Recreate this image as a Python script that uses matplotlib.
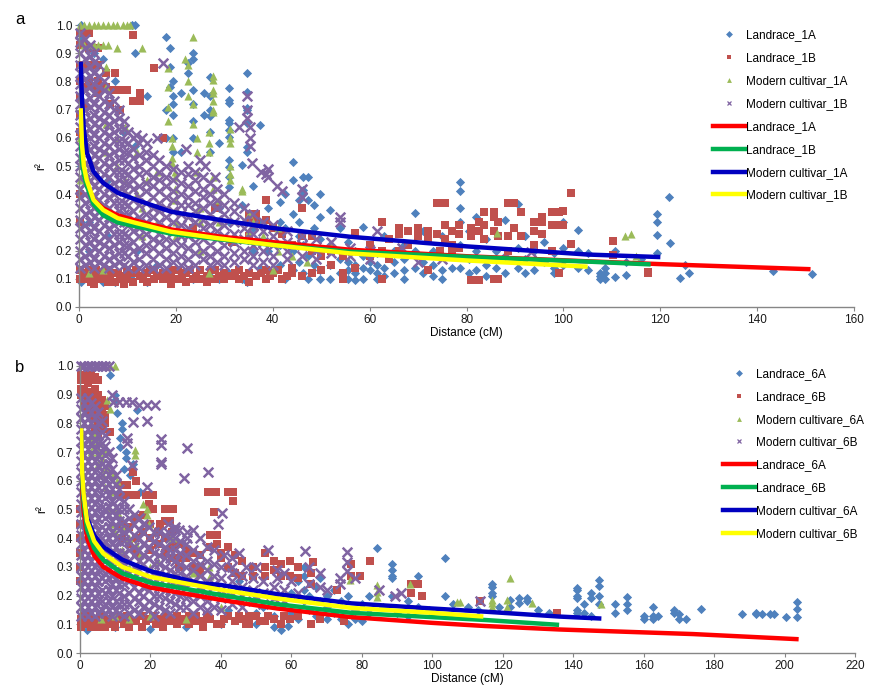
import matplotlib
matplotlib.use("Agg")
import matplotlib.pyplot as plt
from matplotlib.lines import Line2D

plt.rcParams['font.family'] = ['Liberation Sans', 'DejaVu Sans']

# ---------------- data ----------------
# scatter data are stored as columns: (distance, [r2 values at that distance])

# panel a, Landrace_1A (blue diamonds)
la1a_cols = [
    (0.5, [1.0, 0.95, 0.09, 0.5, 0.3]), (2, [0.2, 0.3, 0.4]), (3, [0.9, 0.1]), (5, [0.88, 0.09]),
    (6, [0.25, 0.45]), (7.5, [0.8, 0.09]), (9, [0.62, 0.1]), (10.9, [1.0, 0.1]), (11.6, [1.0, 0.9, 0.57]),
    (12, [0.3, 0.2]), (14, [0.75, 0.09]), (16, [0.35, 0.15]), (17.9, [0.956, 0.7, 0.6]),
    (18.8, [0.918, 0.85, 0.78]), (19.5, [0.8, 0.75, 0.72, 0.68, 0.6, 0.55, 0.1]), (21, [0.55, 0.76, 0.12]),
    (22.6, [0.864, 0.83]), (23.6, [0.9, 0.88, 0.77, 0.72, 0.66, 0.6, 0.1]), (25.7, [0.758, 0.68]),
    (27, [0.817, 0.75, 0.7, 0.676, 0.62, 0.55, 0.11]), (29, [0.58, 0.35, 0.1]),
    (31, [0.776, 0.734, 0.722, 0.663, 0.651, 0.627, 0.603, 0.52, 0.497, 0.46, 0.425, 0.3, 0.12]),
    (33.6, [0.504, 0.36, 0.1]), (34.6, [0.829, 0.764, 0.705, 0.7, 0.651, 0.569, 0.55, 0.09]),
    (36, [0.43, 0.28, 0.2]), (37.4, [0.645, 0.3, 0.14]), (39, [0.35, 0.2, 0.11]),
    (41.5, [0.373, 0.3, 0.22, 0.15]), (42.5, [0.4, 0.28, 0.1]), (44.2, [0.515, 0.45, 0.33, 0.2, 0.13]),
    (45.5, [0.38, 0.3, 0.25, 0.16]), (46.3, [0.462, 0.415, 0.4, 0.22, 0.12]), (47.3, [0.462, 0.38, 0.18, 0.1]),
    (48.5, [0.36, 0.28, 0.15]), (49.8, [0.32, 0.4, 0.24, 0.13, 0.1]), (51.9, [0.344, 0.22, 0.15, 0.1]),
    (53.9, [0.279, 0.2, 0.17, 0.12]), (55.5, [0.23, 0.16, 0.13, 0.1]), (57, [0.2, 0.15, 0.12, 0.095]),
    (58.7, [0.285, 0.18, 0.14, 0.1]), (60, [0.22, 0.16, 0.13]), (61.6, [0.19, 0.15, 0.12, 0.1]),
    (63, [0.25, 0.14, 0.11]), (65, [0.2, 0.16, 0.12]), (67, [0.22, 0.17, 0.13, 0.1]),
    (69.4, [0.332, 0.2, 0.14]), (71, [0.27, 0.16, 0.12]), (73, [0.2, 0.15, 0.11]),
    (75, [0.25, 0.18, 0.13, 0.1]), (77, [0.22, 0.14]), (78.7, [0.444, 0.41, 0.35, 0.3, 0.22, 0.14]),
    (80.5, [0.27, 0.17, 0.12]), (82, [0.32, 0.2, 0.13]), (84, [0.24, 0.15, 0.11]), (86, [0.2, 0.14]),
    (88, [0.31, 0.18, 0.12]), (90.7, [0.367, 0.21, 0.14]), (92, [0.25, 0.17, 0.12]), (94, [0.2, 0.13]),
    (96, [0.23, 0.16]), (98, [0.19, 0.14, 0.12]), (100, [0.3, 0.21, 0.15]), (103, [0.273, 0.2, 0.14]),
    (105, [0.19, 0.13]), (107.5, [0.12, 0.1, 0.11]), (108.5, [0.1, 0.12, 0.14]), (110.6, [0.107, 0.2]),
    (113, [0.113, 0.16]), (116, [0.17]), (119.3, [0.33, 0.303, 0.255, 0.19]), (121.7, [0.391]),
    (122, [0.228]), (124, [0.102]), (125, [0.148]), (126, [0.121]), (143.3, [0.129]), (151.2, [0.118]),
]

# panel a, Landrace_1B (red squares)
lr1b_cols = [
    (0.3, [0.97, 0.93, 0.86, 0.8, 0.74, 0.68, 0.62, 0.4, 0.3, 0.13, 0.1]),
    (1, [0.97, 0.93, 0.86, 0.78, 0.72, 0.12, 0.1]), (1.5, [0.12, 0.1]), (2, [0.97, 0.92, 0.86, 0.8, 0.13, 0.1]),
    (2.5, [0.12, 0.09]), (3, [0.92, 0.86, 0.78, 0.11, 0.08]), (3.5, [0.13, 0.1]),
    (4, [0.92, 0.86, 0.8, 0.76, 0.12, 0.1]), (4.8, [0.11]), (5.6, [0.78, 0.83, 0.13, 0.1]),
    (6, [0.13, 0.09]), (6.5, [0.77, 0.72, 0.11]), (7.4, [0.83, 0.77, 0.12, 0.09]), (8, [0.12]),
    (8.5, [0.77, 0.7, 0.1]), (9.2, [0.11, 0.08]), (9.9, [0.77, 0.13, 0.1]), (10.5, [0.12]),
    (11.2, [0.965, 0.73, 0.12, 0.09]), (11.8, [0.13]), (12.6, [0.76, 0.73, 0.11]), (13.2, [0.1]),
    (14, [0.12, 0.09]), (14.7, [0.13]), (15.4, [0.846, 0.13, 0.1]), (16.2, [0.11]), (17.4, [0.6, 0.12, 0.1]),
    (18, [0.12]), (19, [0.13, 0.11, 0.08]), (20.5, [0.1, 0.13]), (21.2, [0.11]), (22, [0.12, 0.09]),
    (23, [0.13]), (23.5, [0.28, 0.1]), (24.2, [0.11]), (25, [0.13, 0.1]), (26.5, [0.11, 0.09]),
    (27.3, [0.13]), (28, [0.35, 0.13, 0.1]), (29, [0.11]), (30, [0.12, 0.1]),
    (31.5, [0.23, 0.11]), (32.2, [0.12]), (33, [0.13, 0.1]), (34, [0.11]), (35, [0.33, 0.3, 0.25, 0.12, 0.09]),
    (36.5, [0.33, 0.31, 0.11]), (37.5, [0.12]), (38.7, [0.38, 0.31, 0.13, 0.1]), (39.5, [0.11]),
    (40, [0.28, 0.12]), (41, [0.13]), (42, [0.26, 0.1]), (43, [0.11]),
    (44, [0.22, 0.14, 0.12]), (46, [0.35, 0.25, 0.11]), (48, [0.25, 0.2, 0.12]), (50, [0.18, 0.13]),
    (52, [0.2, 0.15]), (54.5, [0.1, 0.12, 0.18]), (57, [0.261, 0.14]), (60, [0.22, 0.18]),
    (62.5, [0.3, 0.2, 0.1]), (64, [0.24, 0.17]), (66, [0.28, 0.26, 0.2]), (68, [0.27, 0.22]),
    (70, [0.28, 0.25, 0.18]), (72, [0.27, 0.24, 0.13]), (73.8, [0.368, 0.26]), (74.5, [0.368, 0.2]),
    (75.5, [0.368, 0.29, 0.24]), (77, [0.27, 0.22, 0.2]), (78.5, [0.29, 0.26, 0.21]),
    (80.9, [0.096, 0.28, 0.25]), (82.6, [0.096, 0.3, 0.27]), (83.6, [0.338, 0.29, 0.24]),
    (85.7, [0.338, 0.32, 0.1, 0.27]), (86.5, [0.3, 0.25, 0.1]), (88.6, [0.368, 0.25, 0.2]),
    (89.7, [0.368, 0.28]), (91.2, [0.338, 0.25]), (94, [0.27, 0.3, 0.22]), (95.5, [0.32, 0.3, 0.26]),
    (97.6, [0.338, 0.29, 0.2]), (99, [0.338, 0.29, 0.12]), (100, [0.34, 0.29]), (101.6, [0.405, 0.225]),
    (110.3, [0.234, 0.185]), (117.5, [0.12, 0.125]),
]

# panel a, Modern cultivar_1A (green triangles)
mc1a_cols = [
    (0.3, [1.0, 0.6, 0.45]), (1, [1.0, 0.93]), (2, [1.0, 0.93, 0.12]), (3, [1.0, 0.93]), (4, [1.0, 0.93]),
    (5, [1.0, 0.93, 0.13]), (5.5, [0.85, 0.78, 0.65, 0.55]), (6, [1.0, 0.93]), (7, [1.0]),
    (7.8, [1.0, 0.92, 0.6, 0.5]), (9, [1.0]), (9.5, [0.64, 0.45]), (10, [1.0]), (10.6, [1.0]),
    (12, [0.55, 0.4]), (13, [0.92, 0.35, 0.25]), (14, [0.45]), (16, [0.48, 0.3]),
    (18.4, [0.846, 0.78, 0.71, 0.66]), (19.2, [0.6, 0.57, 0.53, 0.51]), (19.9, [0.48, 0.46, 0.42, 0.38]),
    (20, [0.3, 0.25]), (21.9, [0.88]), (22.6, [0.86, 0.8, 0.75]), (23.6, [0.958, 0.72, 0.65]),
    (24.3, [0.6, 0.55, 0.48]), (25, [0.35, 0.3, 0.2]), (26.9, [0.62, 0.58, 0.55, 0.12]),
    (27.7, [0.82, 0.805, 0.77, 0.76, 0.73, 0.7, 0.69, 0.46, 0.42]), (29, [0.38, 0.3]),
    (31.2, [0.63, 0.6, 0.58, 0.5, 0.47, 0.45]), (33.6, [0.42, 0.41]), (35, [0.33, 0.27]), (36, [0.3]),
    (38, [0.25]), (40, [0.13]), (41, [0.2, 0.28]), (44, [0.22, 0.18]), (47, [0.16]), (52, [0.22]),
    (86.2, [0.261]), (112.7, [0.25]), (113.9, [0.258]), (115, [0.18]),
]

# panel a, Modern cultivar_1B (purple crosses)
mc1b_cols = [
    (0.2, [0.97, 0.94, 0.9, 0.86, 0.83, 0.79, 0.75, 0.72, 0.68, 0.64, 0.61, 0.57, 0.53, 0.5, 0.46, 0.42, 0.39, 0.35, 0.31, 0.28, 0.24, 0.2, 0.17, 0.14]),
    (1.2, [0.95, 0.92, 0.88, 0.84, 0.81, 0.77, 0.73, 0.7, 0.66, 0.62, 0.59, 0.55, 0.51, 0.48, 0.44, 0.4, 0.37, 0.33, 0.29, 0.26, 0.22, 0.18, 0.15]),
    (2.2, [0.93, 0.89, 0.85, 0.82, 0.78, 0.74, 0.71, 0.67, 0.63, 0.6, 0.56, 0.52, 0.49, 0.45, 0.41, 0.38, 0.34, 0.3, 0.27, 0.23, 0.19, 0.16]),
    (3.2, [0.9, 0.87, 0.83, 0.79, 0.76, 0.72, 0.68, 0.65, 0.61, 0.57, 0.54, 0.5, 0.46, 0.43, 0.39, 0.35, 0.32, 0.28, 0.24, 0.21, 0.17, 0.14]),
    (4.2, [0.86, 0.82, 0.78, 0.75, 0.71, 0.67, 0.64, 0.6, 0.56, 0.53, 0.49, 0.45, 0.42, 0.38, 0.34, 0.31, 0.27, 0.23, 0.2, 0.16]),
    (5.2, [0.8, 0.77, 0.73, 0.69, 0.66, 0.62, 0.58, 0.55, 0.51, 0.47, 0.44, 0.4, 0.36, 0.33, 0.29, 0.25, 0.22, 0.18, 0.15]),
    (6.2, [0.76, 0.72, 0.68, 0.65, 0.61, 0.57, 0.54, 0.5, 0.46, 0.43, 0.39, 0.35, 0.32, 0.28, 0.24, 0.21, 0.17, 0.14]),
    (7.2, [0.73, 0.7, 0.66, 0.62, 0.59, 0.55, 0.51, 0.48, 0.44, 0.4, 0.37, 0.33, 0.29, 0.26, 0.22, 0.18, 0.15]),
    (8.2, [0.7, 0.67, 0.63, 0.59, 0.56, 0.52, 0.48, 0.45, 0.41, 0.37, 0.34, 0.3, 0.26, 0.23, 0.19, 0.16]),
    (9.2, [0.66, 0.63, 0.59, 0.55, 0.52, 0.48, 0.44, 0.41, 0.37, 0.33, 0.3, 0.26, 0.22, 0.19, 0.15]),
    (10.2, [0.62, 0.58, 0.55, 0.51, 0.47, 0.44, 0.4, 0.36, 0.33, 0.29, 0.25, 0.22, 0.18, 0.14]),
    (11.2, [0.6, 0.56, 0.53, 0.49, 0.45, 0.42, 0.38, 0.34, 0.31, 0.27, 0.23, 0.2, 0.16]),
    (12.4, [0.58, 0.54, 0.5, 0.47, 0.43, 0.39, 0.36, 0.32, 0.28, 0.25, 0.21, 0.17, 0.14]),
    (13.8, [0.55, 0.52, 0.48, 0.44, 0.41, 0.37, 0.33, 0.3, 0.26, 0.22, 0.19, 0.15]),
    (15.2, [0.54, 0.5, 0.46, 0.43, 0.39, 0.35, 0.32, 0.28, 0.24, 0.21, 0.17, 0.14]),
    (16.6, [0.52, 0.48, 0.45, 0.41, 0.37, 0.34, 0.3, 0.26, 0.23, 0.19, 0.15]),
    (18, [0.5, 0.46, 0.43, 0.39, 0.35, 0.32, 0.28, 0.24, 0.21, 0.17, 0.14]),
    (19.5, [0.49, 0.45, 0.41, 0.38, 0.34, 0.3, 0.27, 0.23, 0.19, 0.16]),
    (21, [0.48, 0.44, 0.4, 0.36, 0.33, 0.29, 0.25, 0.22, 0.18, 0.15]),
    (22.5, [0.5, 0.47, 0.43, 0.39, 0.36, 0.32, 0.28, 0.25, 0.21, 0.17, 0.14]),
    (24, [0.48, 0.45, 0.41, 0.37, 0.34, 0.3, 0.26, 0.23, 0.19, 0.15]),
    (25.5, [0.46, 0.42, 0.39, 0.35, 0.31, 0.28, 0.24, 0.2, 0.17]),
    (27, [0.44, 0.4, 0.37, 0.33, 0.29, 0.26, 0.22, 0.18, 0.15]),
    (28.5, [0.42, 0.38, 0.35, 0.31, 0.27, 0.24, 0.2, 0.16]),
    (30, [0.4, 0.36, 0.33, 0.29, 0.25, 0.22, 0.18, 0.15]),
    (32, [0.37, 0.34, 0.3, 0.26, 0.23, 0.19, 0.16]),
    (34, [0.35, 0.31, 0.28, 0.24, 0.2, 0.17]),
    (36, [0.33, 0.29, 0.26, 0.22, 0.18, 0.15]),
    (38, [0.3, 0.27, 0.23, 0.2, 0.16]),
    (40, [0.29, 0.25, 0.22, 0.18, 0.15]),
    (43, [0.27, 0.23, 0.2, 0.17]), (46, [0.25, 0.22, 0.18, 0.42, 0.39]), (49, [0.24, 0.2, 0.17]),
    (52, [0.23, 0.19]), (56, [0.21, 0.18]), (60, [0.2, 0.17]),
    (11.7, [0.61]), (13, [0.6]), (14, [0.58]), (16, [0.6]), (17.3, [0.866]), (22, [0.56]), (25, [0.52]),
    (26, [0.5]), (28, [0.46]), (33, [0.64]), (34.6, [0.75, 0.7, 0.67]), (35.4, [0.64, 0.6, 0.57]),
    (35.8, [0.51]), (37.5, [0.48]), (38.5, [0.47]), (39, [0.49, 0.46]), (40.8, [0.43]), (42, [0.41]),
    (53.9, [0.3, 0.32]), (61.6, [0.27]), (66.6, [0.21]), (70, [0.16]), (75, [0.17]), (93.3, [0.196]),
]

# panel b, Landrace_6A (blue diamonds)
la6a_cols = [
    (2, [0.08]), (8.5, [0.969]), (10, [0.9, 0.88, 0.09]), (10.4, [0.835]), (11.4, [0.748, 0.719]),
    (12, [0.8, 0.78]), (12.5, [0.64]), (13, [0.7, 0.68]), (14.2, [0.62]), (15, [0.66]), (16.1, [0.847]),
    (17, [0.56]), (20, [0.085]), (30, [0.09]), (40, [0.1]), (42, [0.15, 0.2]), (45, [0.25, 0.18]),
    (48, [0.22]), (50, [0.14, 0.2, 0.1]), (52, [0.16]), (55, [0.2, 0.13, 0.09]), (57, [0.08]),
    (58, [0.17]), (59, [0.095]), (60, [0.21, 0.14]), (62, [0.25, 0.12]), (63.5, [0.3, 0.27, 0.22, 0.18]),
    (65, [0.2, 0.15]), (67, [0.13, 0.23]), (68, [0.26, 0.18]), (70, [0.2, 0.16, 0.12]), (72, [0.22, 0.14]),
    (74, [0.18, 0.12]), (76, [0.2, 0.1]), (78, [0.15, 0.12]), (80, [0.17, 0.11]), (82, [0.2, 0.14]),
    (84.4, [0.367]), (86, [0.16]), (88.5, [0.31, 0.29, 0.27, 0.26, 0.2]), (90, [0.14]), (93, [0.18, 0.13]),
    (96, [0.27, 0.16]), (99, [0.15]), (103.6, [0.332, 0.2]), (106, [0.17]), (110, [0.16]), (113, [0.15]),
    (116.9, [0.24, 0.23, 0.21, 0.2]), (119, [0.16]), (122, [0.185, 0.16]), (124.5, [0.19, 0.175]),
    (127, [0.19, 0.18]), (130, [0.15]), (133, [0.14]), (141, [0.225, 0.22, 0.2, 0.19, 0.15, 0.14]),
    (143, [0.17, 0.14]), (145, [0.21, 0.19, 0.13]), (147.4, [0.254, 0.235, 0.2, 0.17]),
    (152, [0.17, 0.14]), (155.2, [0.196, 0.17, 0.15]), (160, [0.13, 0.12]), (162.7, [0.161, 0.13, 0.12]),
    (164, [0.13]), (168.5, [0.15, 0.14]), (170, [0.135, 0.12]), (172, [0.12]), (176.2, [0.155]),
    (187.8, [0.135]), (192, [0.14, 0.135]), (193.5, [0.135]), (196, [0.135]), (197, [0.135]),
    (200.5, [0.125]), (203.4, [0.178, 0.155, 0.127]),
]

# panel b, Landrace_6B (red squares)
lr6b_cols = [
    (0.1, [0.5, 0.45, 0.4, 0.35, 0.3, 0.25]), (0.3, [0.97, 0.95, 0.92, 0.9, 0.12, 0.09]),
    (0.8, [0.11]), (1.2, [0.97, 0.95, 0.92, 0.9, 0.86, 0.13]), (1.7, [0.1]),
    (2.2, [0.97, 0.94, 0.91, 0.87, 0.84, 0.11]), (2.7, [0.13]),
    (3.2, [0.97, 0.95, 0.91, 0.88, 0.85, 0.82, 0.09]), (3.7, [0.11]),
    (4.2, [0.96, 0.92, 0.88, 0.85, 0.82, 0.78, 0.12]), (4.7, [0.09]),
    (5.2, [0.95, 0.9, 0.87, 0.84, 0.8, 0.76, 0.1]), (5.7, [0.13]), (6.2, [0.88, 0.85, 0.82, 0.78, 0.12]),
    (7, [0.86, 0.83, 0.8, 0.09]), (7.7, [0.12]), (8.5, [0.77, 0.12, 0.1]), (9.3, [0.13]), (10, [0.11, 0.09]),
    (10.8, [0.13]), (11.4, [0.585, 0.55, 0.12]), (12, [0.45, 0.4, 0.33]), (12.4, [0.585, 0.1]),
    (13.4, [0.585, 0.55, 0.13]), (14, [0.44, 0.38, 0.12, 0.09]), (15, [0.63, 0.55, 0.11]),
    (16, [0.6, 0.55, 0.47, 0.4, 0.35, 0.11]), (17.5, [0.13, 0.09]), (18, [0.48, 0.42]), (18.6, [0.55, 0.11]),
    (19.5, [0.52, 0.12]), (20, [0.45, 0.4, 0.36]), (20.8, [0.55, 0.5, 0.13]), (21.5, [0.1]),
    (22, [0.42, 0.38]), (22.8, [0.45, 0.12]), (23.5, [0.12, 0.09]), (24, [0.5, 0.46, 0.4, 0.35]),
    (24.7, [0.13]), (25.4, [0.5, 0.46, 0.11]), (26, [0.42, 0.37, 0.33]), (26.5, [0.5, 0.12]),
    (27.5, [0.13, 0.1]), (28, [0.38, 0.33, 0.3]), (28.8, [0.11]), (29.5, [0.12]), (30, [0.36, 0.33]),
    (31, [0.1, 0.13]), (32, [0.35, 0.3]), (33, [0.13, 0.11]), (34, [0.34, 0.3, 0.28]), (35, [0.11, 0.09]),
    (36, [0.13]), (36.3, [0.56]), (37, [0.37, 0.41, 0.12]), (38, [0.49]), (38.7, [0.56]),
    (38.8, [0.41, 0.38, 0.1]), (40, [0.35, 0.33, 0.1]), (41, [0.12]), (41.9, [0.56]),
    (42, [0.37, 0.3, 0.13]), (42.8, [0.56]), (43.5, [0.56, 0.53]), (44, [0.34, 0.28, 0.11]),
    (45, [0.13]), (46, [0.32, 0.27, 0.12]), (47, [0.1]), (48, [0.1, 0.13]), (49, [0.27, 0.3]),
    (50, [0.13]), (51, [0.11]), (52.5, [0.35, 0.3, 0.27, 0.11]), (53.5, [0.13]), (55, [0.29, 0.32, 0.12]),
    (57, [0.31, 0.27, 0.1]), (58, [0.13]), (59.6, [0.32, 0.27, 0.12]), (62, [0.3, 0.26, 0.13]),
    (65.5, [0.28, 0.24, 0.1]), (66.2, [0.318]), (68, [0.12]), (72.9, [0.22]), (75, [0.11]),
    (77, [0.31, 0.27]), (79.5, [0.27]), (82.3, [0.32]), (94, [0.24, 0.21]), (96, [0.24]), (97, [0.2]),
    (113.5, [0.18]), (135.3, [0.14]),
]

# panel b, Modern cultivare_6A (green triangles)
mc6a_cols = [
    (3, [0.8, 0.75, 0.7]), (4, [0.76, 0.72]), (5, [0.74, 0.7, 0.66]), (5.8, [0.73]), (6, [0.12]),
    (6.2, [0.68]), (6.6, [0.62]), (7, [0.7, 0.64, 0.58]), (7.6, [0.88]), (8, [0.64, 0.5]),
    (8.5, [1.0, 0.85]), (9, [0.56, 0.45]), (9.5, [0.62]), (9.9, [1.0]), (10, [0.5, 0.42, 0.13]),
    (10.4, [0.6]), (11, [0.48]), (12, [0.44, 0.36]), (14, [0.4, 0.3, 0.12]), (15.6, [0.707, 0.69]),
    (16, [0.38]), (17, [0.34]), (18, [0.52]), (18.9, [0.5, 0.48]), (19.5, [0.45]), (20, [0.3, 0.13]),
    (22, [0.32]), (25.5, [0.4]), (26.5, [0.4]), (27, [0.25]), (30, [0.12]), (32, [0.28]),
    (36.5, [0.3]), (37, [0.27]), (40, [0.16]), (76.6, [0.254]), (84.2, [0.237, 0.213, 0.196]),
    (93.7, [0.24]), (107, [0.179]), (108, [0.179]), (116.9, [0.173, 0.185, 0.16]),
    (121.1, [0.185, 0.161]), (122, [0.26]), (128.2, [0.173]), (148, [0.17]),
]

# panel b, Modern cultivar_6B (purple crosses)
mc6b_cols = [
    (0.2, [1.0, 0.89, 0.85, 0.82, 0.78, 0.74, 0.71, 0.67, 0.63, 0.6, 0.56, 0.52, 0.49, 0.45, 0.41, 0.38, 0.34, 0.3, 0.27, 0.23, 0.19, 0.16, 0.13]),
    (1.2, [1.0, 0.87, 0.84, 0.8, 0.76, 0.73, 0.69, 0.65, 0.62, 0.58, 0.54, 0.51, 0.47, 0.43, 0.4, 0.36, 0.32, 0.29, 0.25, 0.21, 0.18, 0.14]),
    (2.2, [1.0, 0.89, 0.85, 0.82, 0.78, 0.74, 0.71, 0.67, 0.63, 0.6, 0.56, 0.52, 0.49, 0.45, 0.41, 0.38, 0.34, 0.3, 0.27, 0.23, 0.19, 0.16, 0.13]),
    (3.2, [1.0, 0.87, 0.84, 0.8, 0.76, 0.73, 0.69, 0.65, 0.62, 0.58, 0.54, 0.51, 0.47, 0.43, 0.4, 0.36, 0.32, 0.29, 0.25, 0.21, 0.18, 0.14]),
    (4.2, [1.0, 0.86, 0.82, 0.78, 0.74, 0.71, 0.67, 0.63, 0.6, 0.56, 0.52, 0.49, 0.45, 0.41, 0.38, 0.34, 0.3, 0.27, 0.23, 0.19, 0.16, 0.13]),
    (5.2, [1.0, 0.84, 0.8, 0.76, 0.73, 0.69, 0.65, 0.62, 0.58, 0.54, 0.51, 0.47, 0.43, 0.4, 0.36, 0.32, 0.29, 0.25, 0.21, 0.18, 0.14]),
    (6.2, [1.0, 0.81, 0.77, 0.73, 0.7, 0.66, 0.62, 0.59, 0.55, 0.51, 0.48, 0.44, 0.4, 0.37, 0.33, 0.29, 0.26, 0.22, 0.18, 0.15]),
    (7.2, [1.0, 0.76, 0.72, 0.69, 0.65, 0.61, 0.58, 0.54, 0.5, 0.47, 0.43, 0.39, 0.36, 0.32, 0.28, 0.25, 0.21, 0.17, 0.14]),
    (8.2, [1.0, 0.7, 0.66, 0.62, 0.59, 0.55, 0.51, 0.48, 0.44, 0.4, 0.37, 0.33, 0.29, 0.26, 0.22, 0.18, 0.15]),
    (9.2, [0.9, 0.68, 0.64, 0.6, 0.57, 0.53, 0.49, 0.46, 0.42, 0.38, 0.35, 0.31, 0.27, 0.24, 0.2, 0.16, 0.13]),
    (10.2, [0.62, 0.59, 0.55, 0.51, 0.48, 0.44, 0.4, 0.37, 0.33, 0.29, 0.26, 0.22, 0.18, 0.15]),
    (11.2, [0.57, 0.54, 0.5, 0.46, 0.43, 0.39, 0.35, 0.32, 0.28, 0.24, 0.21, 0.17, 0.14]),
    (12.4, [0.53, 0.5, 0.46, 0.42, 0.39, 0.35, 0.31, 0.28, 0.24, 0.2, 0.17, 0.13]),
    (13.8, [0.5, 0.47, 0.43, 0.39, 0.36, 0.32, 0.28, 0.25, 0.21, 0.17, 0.14]),
    (15.2, [0.48, 0.45, 0.41, 0.37, 0.34, 0.3, 0.26, 0.23, 0.19, 0.15]),
    (16.6, [0.47, 0.43, 0.4, 0.36, 0.32, 0.29, 0.25, 0.21, 0.18, 0.14]),
    (18, [0.45, 0.42, 0.38, 0.34, 0.31, 0.27, 0.23, 0.2, 0.16]),
    (19.5, [0.44, 0.4, 0.37, 0.33, 0.29, 0.26, 0.22, 0.18, 0.15]),
    (21, [0.42, 0.39, 0.35, 0.31, 0.28, 0.24, 0.2, 0.17, 0.13]),
    (22.5, [0.42, 0.38, 0.34, 0.31, 0.27, 0.23, 0.2, 0.16]),
    (24, [0.41, 0.37, 0.33, 0.3, 0.26, 0.22, 0.19, 0.15]),
    (25.5, [0.4, 0.36, 0.33, 0.29, 0.25, 0.22, 0.18, 0.14]),
    (27, [0.4, 0.36, 0.32, 0.28, 0.25, 0.21, 0.17, 0.44, 0.43]),
    (28.5, [0.39, 0.35, 0.31, 0.28, 0.24, 0.2, 0.16]),
    (30, [0.38, 0.34, 0.3, 0.27, 0.23, 0.19, 0.16]),
    (32, [0.36, 0.32, 0.29, 0.25, 0.21, 0.18, 0.14, 0.43]),
    (34, [0.34, 0.31, 0.27, 0.23, 0.2, 0.16, 0.4]),
    (36, [0.32, 0.29, 0.25, 0.21, 0.18, 0.15, 0.37]),
    (38, [0.31, 0.27, 0.24, 0.2, 0.16, 0.36]),
    (40, [0.3, 0.26, 0.22, 0.19, 0.15]),
    (43, [0.28, 0.25, 0.21, 0.17, 0.33, 0.3]),
    (46, [0.27, 0.23, 0.2, 0.16]), (49, [0.26, 0.22, 0.18]), (52, [0.25, 0.21, 0.17]),
    (55, [0.23, 0.19]), (58, [0.22, 0.18, 0.28]), (62, [0.21]),
    (9.4, [0.876]), (11, [0.876]), (13, [0.876]), (14.8, [0.876]), (16.6, [0.864]),
    (18.9, [0.864, 0.808, 0.58]), (21.2, [0.864]), (15.1, [0.806]), (13.4, [0.75, 0.73]), (14.7, [0.655]),
    (23.1, [0.747, 0.725, 0.66]), (22.9, [0.667]), (30.3, [0.713]), (29.4, [0.608]), (36.4, [0.632]),
    (40.2, [0.489]), (39.3, [0.451]), (25, [0.45, 0.42]), (28, [0.43]), (30.5, [0.42, 0.4]),
    (41, [0.34]), (45, [0.35]), (47, [0.3]), (50, [0.3]), (53.5, [0.36]), (56, [0.29, 0.26]),
    (60, [0.25]), (63.9, [0.355]), (65, [0.24, 0.3]), (68, [0.28, 0.23]), (70, [0.22]),
    (73.8, [0.26, 0.24]), (75.7, [0.353, 0.318, 0.285]), (78, [0.26]), (85, [0.22]),
    (89.5, [0.2]), (91, [0.21]), (113.5, [0.18]),
]

# trend lines
tr_a_red_x = [0.35, 0.6, 1, 1.6, 3, 5, 8, 12, 19, 29, 40, 56, 80, 105, 120, 151]
tr_a_red_y = [0.65, 0.56, 0.49, 0.44, 0.38, 0.35, 0.325, 0.305, 0.275, 0.25, 0.23, 0.203, 0.18, 0.162, 0.152, 0.134]
tr_a_green_x = [0.35, 0.6, 1, 1.6, 3, 5, 8, 12, 19, 29, 40, 56, 80, 105, 118]
tr_a_green_y = [0.6, 0.52, 0.47, 0.43, 0.365, 0.325, 0.3, 0.285, 0.26, 0.24, 0.22, 0.196, 0.178, 0.161, 0.151]
tr_a_blue_x = [0.35, 0.6, 1, 1.6, 3, 5, 8, 12, 19, 29, 40, 56, 80, 105, 120]
tr_a_blue_y = [0.87, 0.74, 0.63, 0.55, 0.48, 0.44, 0.405, 0.379, 0.338, 0.309, 0.28, 0.249, 0.215, 0.186, 0.177]
tr_a_yellow_x = [0.35, 0.6, 1, 1.6, 3, 5, 8, 12, 19, 29, 40, 56, 80, 105]
tr_a_yellow_y = [0.705, 0.58, 0.5, 0.45, 0.38, 0.344, 0.315, 0.297, 0.267, 0.243, 0.22, 0.19, 0.165, 0.143]

tr_b_red_x = [0.3, 0.6, 1, 2, 4, 6.6, 12, 20, 40, 56, 77, 100, 115, 136, 150, 174, 204]
tr_b_red_y = [0.7, 0.57, 0.5, 0.4, 0.34, 0.3, 0.26, 0.228, 0.185, 0.155, 0.125, 0.105, 0.094, 0.082, 0.076, 0.066, 0.048]
tr_b_green_x = [0.3, 0.6, 1, 2, 4, 6.6, 12, 20, 40, 56, 77, 100, 115, 136]
tr_b_green_y = [0.74, 0.6, 0.53, 0.43, 0.365, 0.324, 0.278, 0.245, 0.202, 0.17, 0.14, 0.125, 0.115, 0.098]
tr_b_blue_x = [0.3, 0.6, 1, 2, 4, 6.6, 12, 20, 34, 40, 56, 77, 100, 115, 136, 148]
tr_b_blue_y = [0.76, 0.62, 0.55, 0.47, 0.41, 0.37, 0.325, 0.285, 0.243, 0.237, 0.205, 0.173, 0.155, 0.144, 0.127, 0.12]
tr_b_yellow_x = [0.3, 0.6, 1, 2, 4, 6.6, 12, 20, 40, 56, 77, 100, 114.5]
tr_b_yellow_y = [0.783, 0.63, 0.556, 0.46, 0.39, 0.347, 0.3, 0.265, 0.22, 0.19, 0.157, 0.14, 0.127]

y_ticks = [0.0, 0.1, 0.2, 0.3, 0.4, 0.5, 0.6, 0.7, 0.8, 0.9, 1.0]
x_ticks_a = [0, 20, 40, 60, 80, 100, 120, 140, 160]
x_ticks_b = [0, 20, 40, 60, 80, 100, 120, 140, 160, 180, 200, 220]

labels_a = ['Landrace_1A', 'Landrace_1B', 'Modern cultivar_1A', 'Modern cultivar_1B']
labels_b_pts = ['Landrace_6A', 'Landrace_6B', 'Modern cultivare_6A', 'Modern cultivar_6B']
labels_b_lines = ['Landrace_6A', 'Landrace_6B', 'Modern cultivar_6A', 'Modern cultivar_6B']

# ---------------- styles ----------------
pt_styles = [
    dict(marker='D', color='#4F81BD', s=22),
    dict(marker='s', color='#C0504D', s=36),
    dict(marker='^', color='#9BBB59', s=34),
    dict(marker='x', color='#8064A2', s=48),
]
line_colors = ['#FF0000', '#00B050', '#0000C0', '#FFFF00']
axis_gray = '#868686'


def flatten(cols):
    xs, ys = [], []
    for x, vals in cols:
        xs += [x] * len(vals)
        ys += vals
    return xs, ys


def draw_panel(ax, point_cols, trends, xticks, pt_labels, line_labels, leg_anchor):
    for cols, st in zip(point_cols, pt_styles):
        xs, ys = flatten(cols)
        if st['marker'] == 'x':
            ax.scatter(xs, ys, marker='x', c=st['color'], s=st['s'], linewidths=1.8, clip_on=False, zorder=2)
        else:
            ax.scatter(xs, ys, marker=st['marker'], c=st['color'], s=st['s'], linewidths=0,
                       clip_on=False, zorder=2)
    for (tx, ty), col in zip(trends, line_colors):
        ax.plot(tx, ty, color=col, lw=3.2, solid_capstyle='butt', zorder=3)

    ax.set_xlim(0, xticks[-1])
    ax.set_ylim(0, 1.0)
    ax.set_xticks(xticks)
    ax.set_yticks(y_ticks)
    ax.set_yticklabels([f'{v:.1f}' for v in y_ticks])
    for side in ['top', 'right']:
        ax.spines[side].set_visible(False)
    for side in ['left', 'bottom']:
        ax.spines[side].set_color(axis_gray)
        ax.spines[side].set_linewidth(1.0)
    ax.tick_params(direction='out', length=3, width=0.8, color=axis_gray,
                   labelsize=8.5, labelcolor='#1a1a1a', pad=2)
    ax.set_xlabel('Distance (cM)', fontsize=8.5, labelpad=1)
    ax.set_ylabel('r²', fontsize=8.5, labelpad=6)

    handles = []
    for st in pt_styles:
        if st['marker'] == 'x':
            handles.append(Line2D([], [], ls='none', marker='x', color=st['color'], ms=3.5, mew=0.9))
        else:
            handles.append(Line2D([], [], ls='none', marker=st['marker'], color=st['color'], ms=3.5, mew=0))
    for col in line_colors:
        handles.append(Line2D([], [], color=col, lw=3.2))
    fig.legend(handles, pt_labels + line_labels, loc='upper left', bbox_to_anchor=leg_anchor,
               frameon=False, fontsize=8.5, handlelength=2.7, handletextpad=0.1,
               labelspacing=0.92, borderpad=0, borderaxespad=0)


fig = plt.figure(figsize=(8.69, 6.86), dpi=100)
ax_a = fig.add_axes([0.0909, 0.5525, 0.892, 0.411])
ax_b = fig.add_axes([0.0921, 0.0481, 0.8918, 0.4184])

draw_panel(ax_a, [la1a_cols, lr1b_cols, mc1a_cols, mc1b_cols],
           [(tr_a_red_x, tr_a_red_y), (tr_a_green_x, tr_a_green_y),
            (tr_a_blue_x, tr_a_blue_y), (tr_a_yellow_x, tr_a_yellow_y)],
           x_ticks_a, labels_a, labels_a, (0.8205, 0.957))

draw_panel(ax_b, [la6a_cols, lr6b_cols, mc6a_cols, mc6b_cols],
           [(tr_b_red_x, tr_b_red_y), (tr_b_green_x, tr_b_green_y),
            (tr_b_blue_x, tr_b_blue_y), (tr_b_yellow_x, tr_b_yellow_y)],
           x_ticks_b, labels_b_pts, labels_b_lines, (0.832, 0.4636))

fig.text(15 / 869, 1 - 20 / 686, 'a', fontsize=12, va='center', ha='left')
fig.text(15 / 869, 1 - 368 / 686, 'b', fontsize=12, va='center', ha='left')

fig.savefig('out.png', dpi=100, facecolor='white')
